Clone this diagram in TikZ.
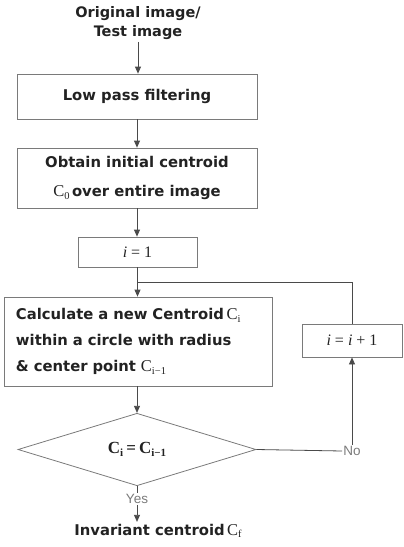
\documentclass[tikz,border=0pt]{standalone}
\usepackage{fontspec}
\setmainfont{DejaVu Sans}
\newfontfamily\tms{Liberation Serif}
\newfontfamily\lab{Liberation Sans}
\usetikzlibrary{shapes.geometric,arrows.meta}
\definecolor{txt}{HTML}{222222}
\definecolor{frame}{HTML}{7A7A7A}
\definecolor{wire}{HTML}{4A4A4A}
\definecolor{labgray}{HTML}{7A7A7A}
% serif centroid symbol with a subscript
\newcommand\Cwith[1]{{\tms\mdseries\fontsize{16.5}{18}\selectfont C\raisebox{-0.35ex}{\fontsize{10.5}{12}\selectfont #1}}}
\newcommand\Cbold[1]{{\tms\bfseries\fontsize{17}{19}\selectfont C\raisebox{-0.35ex}{\fontsize{11}{12}\selectfont #1}}}
\begin{document}
\begin{tikzpicture}[x=1pt,y=-1pt,
  every node/.style={text=txt},
  box/.style={draw=frame, line width=0.8pt, rectangle, inner sep=0pt,
    font=\bfseries\fontsize{14.8}{29}\selectfont, align=center},
  link/.style={draw=wire, line width=0.8pt},
  arr/.style={link, -{Triangle[length=7pt,width=6pt]}},
  answer/.style={font=\lab\fontsize{13.5}{15}\selectfont, text=labgray, inner sep=1pt}
]
\useasboundingbox (0,0) rectangle (404,547);

\node[font=\bfseries\fontsize{14.5}{19}\selectfont, align=center, inner sep=2pt]
  (src) at (138,23) {Original image/\\Test image};

\node[box, minimum width=240pt, minimum height=45pt] (lpf) at (137,96.5)
  {Low pass filtering};

\node[box, minimum width=240pt, minimum height=60pt] (init) at (137,178)
  {Obtain initial centroid\\\Cwith{0}\,over entire image};

\node[box, minimum width=119pt, minimum height=30pt,
  font=\tms\fontsize{16}{18}\selectfont] (one) at (137.5,252)
  {\itshape i\/ \upshape= 1};

\node[box, minimum width=268pt, minimum height=89pt, align=left,
  text width=244pt, font=\bfseries\fontsize{14.8}{26}\selectfont] (calc) at (138,341.5)
  {Calculate a new Centroid\,\Cwith{i}\\within a circle with radius\\\& center point \Cwith{i−1}};

\node[box, minimum width=100pt, minimum height=33pt,
  font=\tms\fontsize{16}{18}\selectfont] (inc) at (352,340.5)
  {\itshape i\/ \upshape= \itshape i\/ \upshape+ 1};

\node[draw=frame, line width=0.8pt, diamond, minimum width=238pt, minimum height=59pt,
  inner sep=0pt] (dec) at (137,449.5)
  {\Cbold{i} {\tms\bfseries\fontsize{17}{19}\selectfont =} \Cbold{i−1}};

\node[answer] (no) at (352,451) {No};
\node[answer] (yes) at (137,499) {Yes};

\node[font=\bfseries\fontsize{14.8}{17}\selectfont, inner sep=2pt] (fin) at (158,531)
  {Invariant centroid\,\Cwith{f}};

\coordinate (join) at (137.5,282);

% main flow
\draw[arr] (src.south) -- (src.south |- lpf.north);
\draw[arr] (lpf.south) -- (lpf.south |- init.north);
\draw[arr] (init.south) -- (init.south |- one.north);
\draw[arr] (one.south) -- (one.south |- calc.north);
\draw[arr] (calc.south -| dec.north) -- (dec.north);

% loop back
\draw[link] (dec.east) -- (no.west);
\draw[arr] (no.north) -- (no.north |- inc.south);
\draw[link] (inc.north) |- (join);

% exit
\draw[link] (dec.south) -- (yes.north);
\draw[arr] (yes.south) -- (yes.south |- fin.north);
\end{tikzpicture}
\end{document}
